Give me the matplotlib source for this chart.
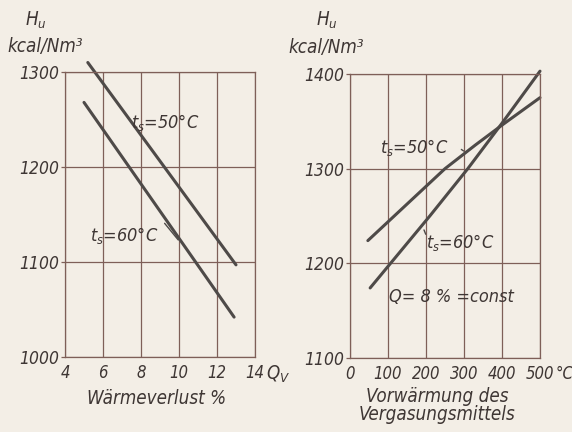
import matplotlib
matplotlib.use("Agg")
import matplotlib.pyplot as plt

# ---- data ----
left_xticks = [4, 6, 8, 10, 12, 14]
left_xticklabels = ["4", "6", "8", "10", "12", "14"]
left_yticks = [1000, 1100, 1200, 1300]
left_ts50_x = [5.2, 13.0]
left_ts50_y = [1310, 1097]
left_ts60_x = [5.0, 12.9]
left_ts60_y = [1268, 1042]

right_xticks = [0, 100, 200, 300, 400, 500]
right_xticklabels = ["0", "100", "200", "300", "400", "500"]
right_yticks = [1100, 1200, 1300, 1400]
right_ts50_x = [47, 250, 330, 400, 500]
right_ts50_y = [1224, 1300, 1325, 1346, 1375]
right_ts60_x = [53, 210, 310, 400, 500]
right_ts60_y = [1174, 1250, 1300, 1348, 1403]

BG = "#f3eee6"
GRID = "#7e5f58"
LINE = "#4e4a48"
TXT = "#3e3634"
FS = 12        # tick labels
FL = 13.5      # axis labels
FA = 13        # annotations

plt.rcParams['font.family'] = ['DejaVu Sans']
plt.rcParams['font.style'] = 'oblique'
plt.rcParams['font.stretch'] = 'condensed'
plt.rcParams['mathtext.fontset'] = 'custom'
plt.rcParams['mathtext.it'] = 'DejaVu Sans:style=oblique:stretch=condensed'
plt.rcParams['mathtext.rm'] = 'DejaVu Sans:style=oblique:stretch=condensed'

fig = plt.figure(figsize=(5.72, 4.32), dpi=100, facecolor=BG)

def style_axes(ax, xticks, xlabels, yticks, xlim, ylim):
    ax.set_facecolor(BG)
    ax.set_xlim(*xlim)
    ax.set_ylim(*ylim)
    ax.set_xticks(xticks)
    ax.set_xticklabels(xlabels, fontsize=FS, color=TXT)
    ax.set_yticks(yticks)
    ax.set_yticklabels([str(v) for v in yticks], fontsize=FS + 0.5, color=TXT)
    ax.grid(True, color=GRID, linewidth=0.9)
    for s in ax.spines.values():
        s.set_color(GRID)
        s.set_linewidth(0.9)
    ax.tick_params(axis='y', length=3, color=GRID, width=0.9, pad=1)
    ax.tick_params(axis='x', length=0, pad=5)

# Left panel
ax1 = fig.add_axes([65/572, 1-357/432, 190/572, 285/432])
style_axes(ax1, left_xticks, left_xticklabels, left_yticks, (4, 14), (1000, 1300))
ax1.plot(left_ts50_x, left_ts50_y, color=LINE, lw=2.2, clip_on=False, solid_capstyle='round')
ax1.plot(left_ts60_x, left_ts60_y, color=LINE, lw=2.2, clip_on=False, solid_capstyle='round')
ax1.text(-0.21, 1.18, "$H_u$", transform=ax1.transAxes, fontsize=FL, color=TXT, ha='left', va='center')
ax1.text(-0.305, 1.088, "kcal/Nm³", transform=ax1.transAxes, fontsize=FL, color=TXT, ha='left', va='center')
ax1.text(1.06, -0.055, "Q", transform=ax1.transAxes, fontsize=FL, color=TXT, ha='left', va='center')
ax1.text(1.125, -0.075, "V", transform=ax1.transAxes, fontsize=FS-2.5, color=TXT, ha='left', va='center')
ax1.text(0.48, -0.145, "Wärmeverlust %", transform=ax1.transAxes, fontsize=FL, color=TXT, ha='center', va='center')
ax1.text(7.45, 1247, "$t_s$=50°C", fontsize=FA, color=TXT, ha='left', va='center')
ax1.text(5.3, 1128, "$t_s$=60°C", fontsize=FA, color=TXT, ha='left', va='center')
ax1.annotate("", xy=(10.05, 1121), xytext=(9.15, 1143),
             arrowprops=dict(arrowstyle='-', color=LINE, lw=1.0))

# Right panel
ax2 = fig.add_axes([350/572, 1-358/432, 190/572, 284/432])
style_axes(ax2, right_xticks, right_xticklabels, right_yticks, (0, 500), (1100, 1400))
ax2.plot(right_ts50_x, right_ts50_y, color=LINE, lw=2.2, clip_on=False, solid_capstyle='round')
ax2.plot(right_ts60_x, right_ts60_y, color=LINE, lw=2.2, clip_on=False, solid_capstyle='round')
ax2.text(1.08, -0.055, "°C", transform=ax2.transAxes, fontsize=FS, color=TXT, ha='left', va='center')
ax2.text(-0.18, 1.19, "$H_u$", transform=ax2.transAxes, fontsize=FL, color=TXT, ha='left', va='center')
ax2.text(-0.326, 1.095, "kcal/Nm³", transform=ax2.transAxes, fontsize=FL, color=TXT, ha='left', va='center')
ax2.text(0.46, -0.135, "Vorwärmung des", transform=ax2.transAxes, fontsize=FL, color=TXT, ha='center', va='center')
ax2.text(0.46, -0.2, "Vergasungsmittels", transform=ax2.transAxes, fontsize=FL, color=TXT, ha='center', va='center')
ax2.text(79, 1322, "$t_s$=50°C", fontsize=FA, color=TXT, ha='left', va='center')
ax2.annotate("", xy=(305, 1317), xytext=(287, 1322),
             arrowprops=dict(arrowstyle='-', color=LINE, lw=1.0))
ax2.text(200, 1222, "$t_s$=60°C", fontsize=FA, color=TXT, ha='left', va='center')
ax2.annotate("", xy=(192, 1238), xytext=(202, 1228),
             arrowprops=dict(arrowstyle='-', color=LINE, lw=1.0))
ax2.text(268, 1164, "Q= 8 % =const", fontsize=FA, color=TXT, ha='center', va='center')

fig.savefig("out.png", dpi=100, facecolor=BG)
